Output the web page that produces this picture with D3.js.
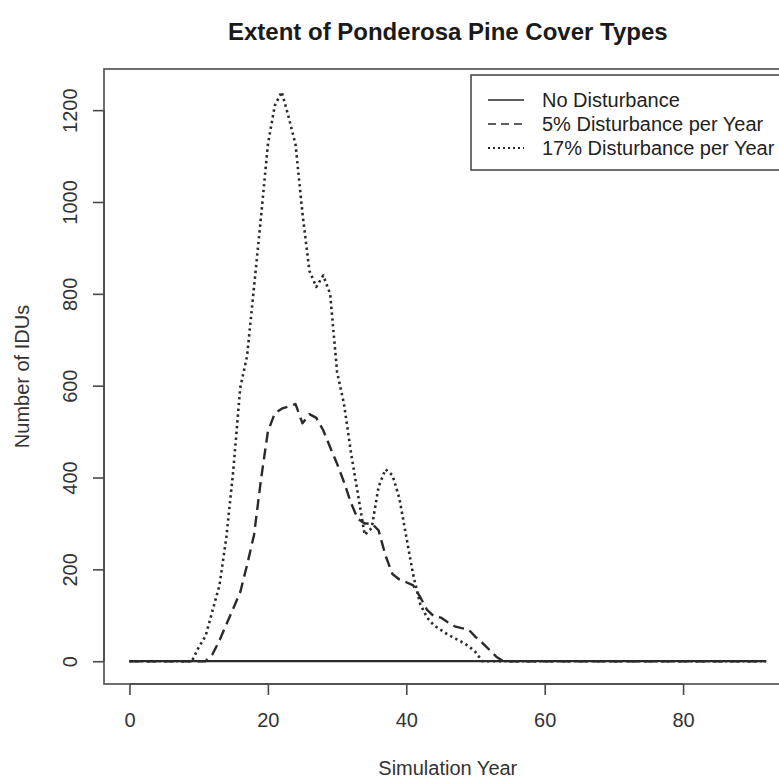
<!DOCTYPE html>
<html>
<head>
<meta charset="utf-8">
<script src="https://cdn.jsdelivr.net/npm/d3@7/dist/d3.min.js"></script>
<style>
  html, body { margin: 0; padding: 0; background: #fff; }
  svg { display: block; font-family: "Liberation Sans", Arial, Helvetica, sans-serif; }
</style>
</head>
<body>
<svg id="chart" width="779" height="778"></svg>
<script>
// Simulation years 0..92
const years = d3.range(0, 93);

// Number of IDUs in ponderosa pine cover types, by year (values after the listed years are 0)
const noDisturbance = years.map(() => 0);

const dist5Years  = [0, 11, 12, 13, 14, 15, 16, 17, 18, 19, 20, 21, 22, 23, 24, 25, 26, 27, 28, 29, 30,
                     31, 32, 33, 34, 35, 36, 37, 38, 39, 40, 41, 42, 43, 44, 45, 46, 47, 48, 49, 50,
                     51, 52, 53, 54, 92];
const dist5Values = [0, 0, 15, 45, 80, 115, 150, 210, 275, 395, 500, 540, 550, 555, 560, 518, 538, 530, 503, 466, 430,
                     390, 345, 310, 300, 300, 285, 230, 190, 178, 172, 165, 140, 112, 98, 95, 85, 76, 72, 69, 53,
                     40, 25, 10, 0, 0];

const dist17Years  = [0, 9, 10, 11, 12, 13, 14, 15, 16, 17, 18, 19, 20, 21, 22, 23, 24, 25, 26, 27, 28, 29, 30,
                      31, 32, 33, 34, 35, 36, 37, 38, 39, 40, 41, 42, 43, 44, 45, 46, 47, 48, 49, 50, 51, 92];
const dist17Values = [0, 0, 30, 55, 110, 165, 270, 415, 595, 665, 815, 966, 1125, 1210, 1240, 1185, 1125, 975, 850, 815, 840, 800, 630,
                      560, 455, 365, 275, 290, 380, 418, 405, 355, 271, 188, 125, 95, 78, 68, 58, 50, 42, 33, 20, 0, 0];

const xTicks = [0, 20, 40, 60, 80];
const yTicks = [0, 200, 400, 600, 800, 1000, 1200];

const seriesNames = ["No Disturbance", "5% Disturbance per Year", "17% Disturbance per Year"];

const series = [
  { name: seriesNames[0], pts: years.map((y, i) => [y, noDisturbance[i]]), dash: null, width: 2.2 },
  { name: seriesNames[1], pts: dist5Years.map((y, i) => [y, dist5Values[i]]), dash: "11,6", width: 2.4 },
  { name: seriesNames[2], pts: dist17Years.map((y, i) => [y, dist17Values[i]]), dash: "2.4,3.4", width: 2.6 }
];

const svg = d3.select("#chart");

// Plot region (box extends past the right edge of the page)
const plotL = 104, plotR = 791.6, plotT = 69, plotB = 684;

// Axis ranges padded 4% on each side, as in base graphics
const xDom = [0, 92], yDom = [0, 1240];
const xPad = (xDom[1] - xDom[0]) * 0.04, yPad = (yDom[1] - yDom[0]) * 0.04;
const x = d3.scaleLinear().domain([xDom[0] - xPad, xDom[1] + xPad]).range([plotL, plotR]);
const y = d3.scaleLinear().domain([yDom[0] - yPad, yDom[1] + yPad]).range([plotB, plotT]);

const ink = "#2a2a2a";
const axisInk = "#4a4a4a";
const labelSize = 20;

// Title
svg.append("text")
  .attr("x", (plotL + plotR) / 2).attr("y", 40)
  .attr("text-anchor", "middle")
  .attr("font-size", 24).attr("font-weight", "bold")
  .attr("fill", "#1a1a1a")
  .text("Extent of Ponderosa Pine Cover Types");

// Lines
const line = d3.line().x(d => x(d[0])).y(d => y(d[1])).curve(d3.curveLinear);
series.forEach(s => {
  svg.append("path")
    .attr("d", line(s.pts))
    .attr("fill", "none")
    .attr("stroke", ink)
    .attr("stroke-width", s.width)
    .attr("stroke-dasharray", s.dash)
    .attr("stroke-linejoin", "round");
});

// Box
svg.append("rect")
  .attr("x", plotL).attr("y", plotT)
  .attr("width", plotR - plotL).attr("height", plotB - plotT)
  .attr("fill", "none").attr("stroke", axisInk).attr("stroke-width", 1.6);

// X axis
const xAxis = d3.axisBottom(x).tickValues(xTicks).tickSize(11).tickPadding(18).tickFormat(d3.format("d"));
const gx = svg.append("g").attr("transform", `translate(0,${plotB})`).call(xAxis);
gx.select(".domain").attr("d", `M${x(xTicks[0])},0H${x(xTicks[xTicks.length - 1])}`)
  .attr("stroke", axisInk).attr("stroke-width", 1.6);
gx.selectAll(".tick line").attr("stroke", axisInk).attr("stroke-width", 1.6);
gx.selectAll(".tick text").attr("font-size", labelSize).attr("fill", "#333").attr("font-family", "Liberation Sans, Arial, sans-serif");

// Y axis (tick labels parallel to the axis)
const yAxis = d3.axisLeft(y).tickValues(yTicks).tickSize(11).tickFormat(d3.format("d"));
const gy = svg.append("g").attr("transform", `translate(${plotL},0)`).call(yAxis);
gy.select(".domain").attr("d", `M0,${y(yTicks[0])}V${y(yTicks[yTicks.length - 1])}`)
  .attr("stroke", axisInk).attr("stroke-width", 1.6);
gy.selectAll(".tick line").attr("stroke", axisInk).attr("stroke-width", 1.6);
gy.selectAll(".tick text")
  .attr("font-size", labelSize).attr("fill", "#333").attr("font-family", "Liberation Sans, Arial, sans-serif")
  .attr("x", null).attr("dy", null)
  .attr("text-anchor", "middle")
  .attr("transform", "translate(-34,0) rotate(-90)")
  .attr("dy", "0.35em");

// Axis titles
svg.append("text")
  .attr("x", (plotL + plotR) / 2).attr("y", 775)
  .attr("text-anchor", "middle").attr("font-size", labelSize).attr("fill", "#333")
  .text("Simulation Year");
svg.append("text")
  .attr("transform", `translate(29,${(plotT + plotB) / 2}) rotate(-90)`)
  .attr("text-anchor", "middle").attr("font-size", labelSize).attr("fill", "#333")
  .text("Number of IDUs");

// Legend
const lg = svg.append("g");
lg.append("rect")
  .attr("x", 471).attr("y", 75).attr("width", 330).attr("height", 95)
  .attr("fill", "#fff").attr("stroke", axisInk).attr("stroke-width", 1.6);
series.forEach((s, i) => {
  const cy = 100 + i * 24;
  lg.append("line")
    .attr("x1", 488).attr("x2", 524).attr("y1", cy).attr("y2", cy)
    .attr("stroke", ink).attr("stroke-width", s.width * 0.7)
    .attr("stroke-dasharray", s.dash === null ? null : (i === 1 ? "8,5" : "2,3"));
  lg.append("text")
    .attr("x", 542).attr("y", cy).attr("dy", "0.35em")
    .attr("font-size", labelSize).attr("fill", "#222")
    .text(s.name);
});
</script>
</body>
</html>
